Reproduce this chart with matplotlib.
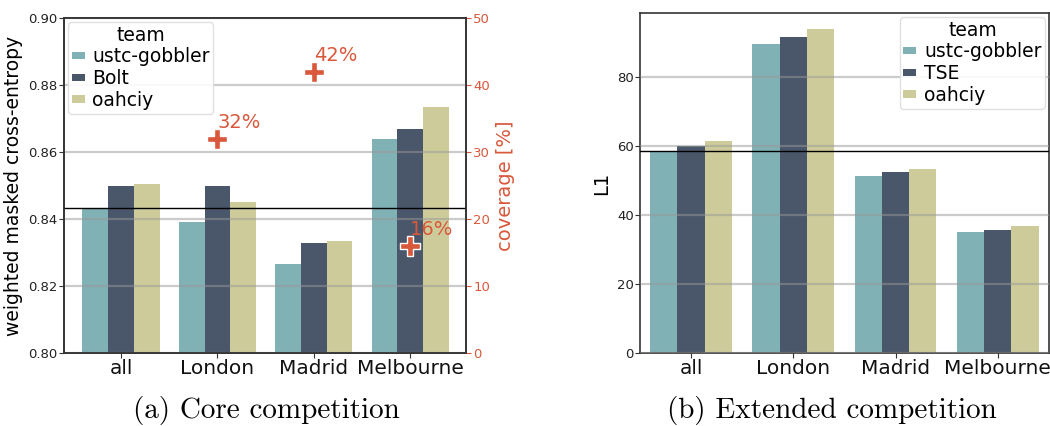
import numpy as np
import matplotlib
matplotlib.use("Agg")
import matplotlib.pyplot as plt

cities = ["all", "London", "Madrid", "Melbourne"]

core_teams = ["ustc-gobbler", "Bolt", "oahciy"]
core_ustc = [0.8433, 0.8391, 0.8266, 0.8639]
core_bolt = [0.8498, 0.8498, 0.8328, 0.8669]
core_oahciy = [0.8505, 0.8451, 0.8334, 0.8734]
coverage_cities = ["London", "Madrid", "Melbourne"]
coverage = [32, 42, 16]

ext_teams = ["ustc-gobbler", "TSE", "oahciy"]
ext_ustc = [58.5, 89.6, 51.3, 35.1]
ext_tse = [60.0, 91.6, 52.5, 35.7]
ext_oahciy = [61.4, 93.9, 53.3, 36.8]

colors = ["#80b1b5", "#4a566a", "#cdcb99"]
red = "#d9583b"
spine_col = "#333333"

fig = plt.figure(figsize=(10.5, 4.26), dpi=100)
ax1 = fig.add_axes([0.061, 0.1714, 0.383, 0.7863])
ax3 = fig.add_axes([0.6095, 0.1714, 0.3895, 0.798])


def draw_bars(ax, series, teams):
    x = np.arange(len(cities))
    w = 0.8 / 3
    for k, (vals, name) in enumerate(zip(series, teams)):
        ax.bar(x + (k - 1) * w, vals, width=w, color=colors[k], label=name, zorder=1)
    ax.set_xticks(x)
    ax.set_xticklabels(cities, fontsize=14.5)
    ax.set_axisbelow(False)
    ax.yaxis.grid(True, color="#999999", alpha=0.5, lw=1.6, zorder=2.5)
    ax.xaxis.grid(False)
    for s in ax.spines.values():
        s.set_color(spine_col)
        s.set_linewidth(1.2)
    ax.tick_params(axis="y", labelsize=9.5, colors=spine_col, labelcolor="#222222", pad=1)
    ax.tick_params(axis="x", colors=spine_col, labelcolor="#111111", pad=1)
    leg_kw = dict(title="team", fontsize=13.5, title_fontsize=13.5, handlelength=0.7,
                  handleheight=0.25, labelspacing=0.15, handletextpad=0.4,
                  borderpad=0.2, borderaxespad=0.2, framealpha=0.9, edgecolor="#dddddd")
    return leg_kw


# (a) core competition
kw = draw_bars(ax1, [core_ustc, core_bolt, core_oahciy], core_teams)
ax1.set_xlim(-0.59, 3.58)
ax1.set_ylim(0.80, 0.90)
ax1.set_yticks([0.80, 0.82, 0.84, 0.86, 0.88, 0.90])
ax1.set_yticklabels([f"{v:.2f}" for v in [0.80, 0.82, 0.84, 0.86, 0.88, 0.90]])
ax1.axhline(core_ustc[0], color="black", lw=1.0, zorder=3)
ax1.set_ylabel("weighted masked cross-entropy", fontsize=13.5, labelpad=4)
ax1.legend(loc="upper left", **kw)

ax2 = ax1.twinx()
ax2.set_ylim(0, 50)
ax2.set_yticks([0, 10, 20, 30, 40, 50])
cx = [cities.index(c) for c in coverage_cities]
ax2.plot(cx, coverage, linestyle="none", marker="P", markersize=15, color=red,
         markeredgecolor="white", markeredgewidth=1.0, zorder=5)
for xi, cv in zip(cx, coverage):
    ax2.annotate(f"{cv}%", (xi, cv), xytext=(0, 5), textcoords="offset points",
                 ha="left", va="bottom", color=red, fontsize=14)
ax2.tick_params(axis="y", colors=red, labelsize=9.5, pad=1.5)
ax2.set_ylabel("coverage [%]", color=red, fontsize=14, labelpad=4)
for s in ax2.spines.values():
    s.set_color(spine_col)
    s.set_linewidth(1.2)

# (b) extended competition
kw = draw_bars(ax3, [ext_ustc, ext_tse, ext_oahciy], ext_teams)
ax3.set_xlim(-0.5, 3.5)
ax3.set_yticks([0, 20, 40, 60, 80])
ax3.axhline(ext_ustc[0], color="black", lw=1.0, zorder=3)
ax3.set_ylabel("L1", fontsize=14, labelpad=4)
ax3.legend(loc="upper right", **kw)

fig.text(0.254, 0.037, "(a) Core competition", ha="center", va="center",
         fontsize=21, family="cmr10")
fig.text(0.792, 0.037, "(b) Extended competition", ha="center", va="center",
         fontsize=21, family="cmr10")

fig.savefig("out.png", dpi=100)
